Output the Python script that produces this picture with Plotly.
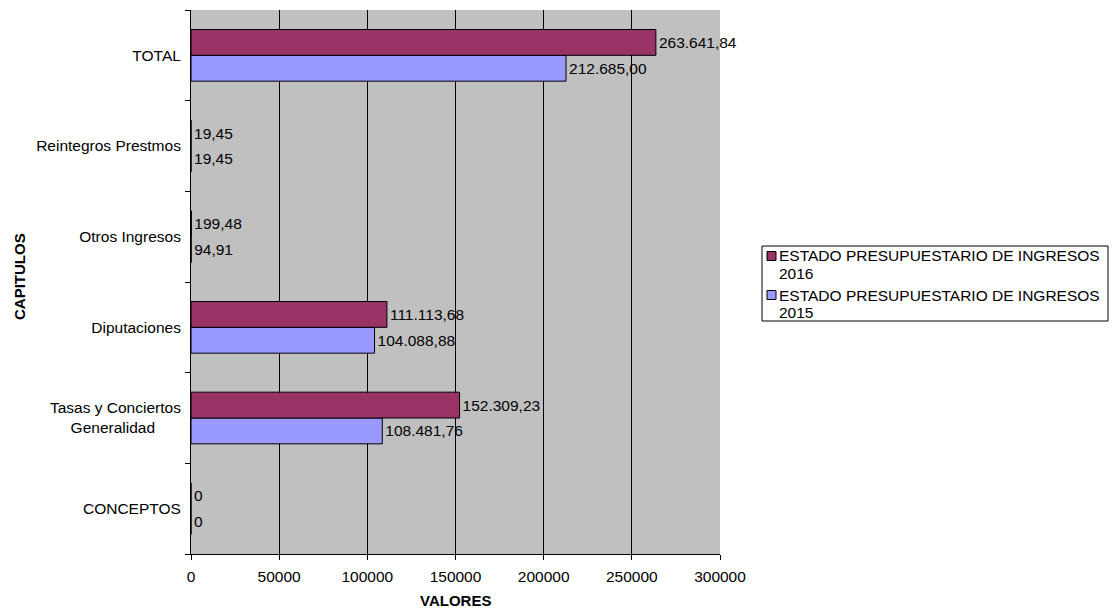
import plotly.graph_objects as go

# Budget chapters (bottom to top)
capitulos = ["CONCEPTOS", "Tasas y Conciertos Generalidad", "Diputaciones",
             "Otros Ingresos", "Reintegros Prestmos", "TOTAL"]
etiquetas_eje = ["CONCEPTOS",
                 "Tasas y Conciertos<br>Generalidad" + "&nbsp;" * 6,
                 "Diputaciones", "Otros Ingresos", "Reintegros Prestmos", "TOTAL"]
valores_2015 = [0, 108481.76, 104088.88, 94.91, 19.45, 212685.00]
valores_2016 = [0, 152309.23, 111113.68, 199.48, 19.45, 263641.84]
etiquetas_2015 = ["0", "108.481,76", "104.088,88", "94,91", "19,45", "212.685,00"]
etiquetas_2016 = ["0", "152.309,23", "111.113,68", "199,48", "19,45", "263.641,84"]
ticks_x = [0, 50000, 100000, 150000, 200000, 250000, 300000]
series = [
    ("ESTADO PRESUPUESTARIO DE INGRESOS", "2016", "#993366"),
    ("ESTADO PRESUPUESTARIO DE INGRESOS", "2015", "#9999FF"),
]

FONT = "Liberation Sans, Arial, sans-serif"
FS = 15.5
W, H = 1113, 614
ML, MR, MT, MB = 191, 393, 10, 60
PW, PH = W - ML - MR, H - MT - MB


def px_x(px):
    return (px - ML) / PW


def px_y(py):
    return (H - MB - py) / PH


fig = go.Figure()
for vals, labels, (_, year, color) in [(valores_2015, etiquetas_2015, series[1]),
                                        (valores_2016, etiquetas_2016, series[0])]:
    fig.add_trace(go.Bar(
        y=capitulos, x=vals, orientation="h", name=year, showlegend=False,
        marker=dict(color=color, line=dict(color="black", width=1)),
        text=labels, textposition="outside", cliponaxis=False,
        textfont=dict(family=FONT, size=FS, color="black"),
        outsidetextfont=dict(family=FONT, size=FS, color="black"),
        insidetextfont=dict(family=FONT, size=FS, color="black"),
    ))

# Legend box with square swatches
shapes = [dict(type="rect", xref="paper", yref="paper",
               x0=px_x(762), x1=px_x(1108), y0=px_y(321), y1=px_y(246),
               line=dict(color="black", width=1), fillcolor="white")]
annotations = []
for i, (name, year, color) in enumerate(series):
    top = 256 + i * 39
    shapes.append(dict(type="rect", xref="paper", yref="paper",
                       x0=px_x(767), x1=px_x(776), y0=px_y(top + 4.5), y1=px_y(top - 4.5),
                       line=dict(color="black", width=1), fillcolor=color))
    for j, line in enumerate([name, year]):
        annotations.append(dict(
            text=line, xref="paper", yref="paper", x=px_x(777), y=px_y(top + 17 * j),
            xanchor="left", yanchor="middle", showarrow=False,
            font=dict(family=FONT, size=FS, color="black")))

# Axis titles
annotations.append(dict(text="<b>VALORES</b>", xref="paper", yref="paper",
                        x=0.5, y=px_y(600), xanchor="center", yanchor="middle",
                        showarrow=False, font=dict(family=FONT, size=15, color="black")))
annotations.append(dict(text="<b>CAPITULOS</b>", xref="paper", yref="paper",
                        x=px_x(19), y=px_y(277), xanchor="center", yanchor="middle",
                        textangle=-90, showarrow=False,
                        font=dict(family=FONT, size=15, color="black")))

fig.update_layout(
    width=W, height=H,
    margin=dict(l=ML, r=MR, t=MT, b=MB),
    paper_bgcolor="white", plot_bgcolor="#C0C0C0",
    barmode="group", bargap=0.43, bargroupgap=0,
    font=dict(family=FONT, size=FS, color="black"),
    showlegend=False,
    shapes=shapes, annotations=annotations,
    xaxis=dict(
        range=[0, 300000], tickvals=ticks_x, ticktext=[str(v) for v in ticks_x],
        showgrid=True, gridcolor="black", gridwidth=1,
        showline=True, linecolor="black", linewidth=1,
        ticks="outside", ticklen=5, tickcolor="black", ticklabelstandoff=3,
        zeroline=False,
        tickfont=dict(family=FONT, size=FS),
    ),
    yaxis=dict(
        tickvals=capitulos, ticktext=etiquetas_eje,
        showgrid=False, showline=True, linecolor="black", linewidth=1,
        ticks="outside", ticklen=5, tickcolor="black", tickson="boundaries",
        ticklabelstandoff=6,
        tickfont=dict(family=FONT, size=FS),
    ),
)

fig.write_html("out.html")
